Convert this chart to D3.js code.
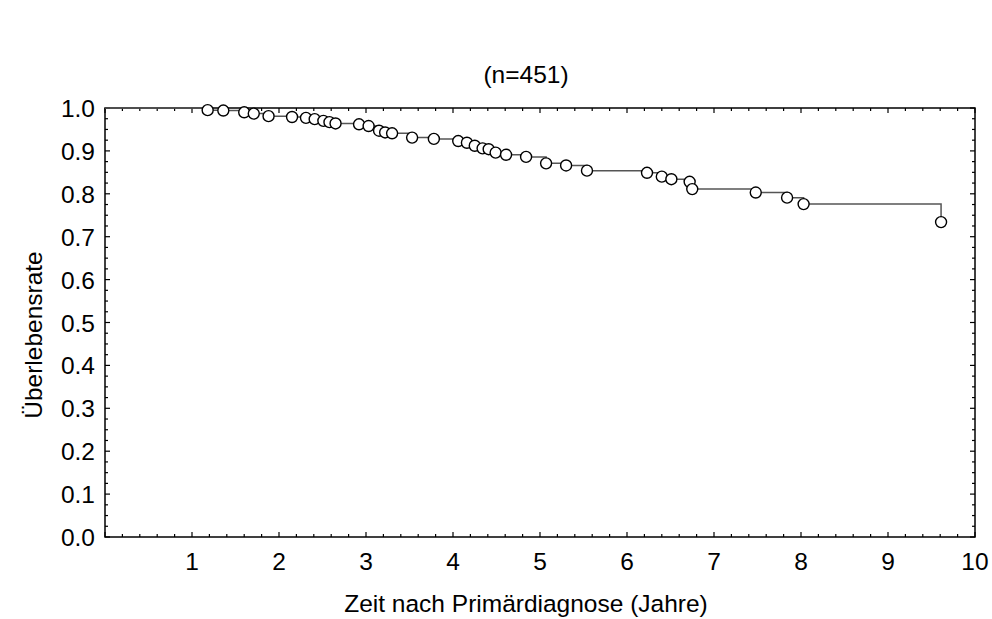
<!DOCTYPE html>
<html>
<head>
    <title>Überlebensrate</title>
    <script src="https://d3js.org/d3.v7.min.js"></script>
    <style>
        body { margin: 0; background: #fff; }
        text { font-family: "Liberation Sans", Arial, sans-serif; fill: #000; font-size: 24.5px; }
        .frame { fill: none; stroke: #000; stroke-width: 1.5px; }
        .tick { stroke: #000; stroke-width: 1.2px; }
        .step { fill: none; stroke: #555; stroke-width: 1.5px; }
        .event { fill: #fff; stroke: #000; stroke-width: 1.4px; }
    </style>
</head>
<body>
    <svg width="992" height="619"></svg>

    <script>
        // event times (years) and survival after each event
        const times = [1.18, 1.36, 1.6, 1.71, 1.88, 2.15, 2.31, 2.41, 2.51, 2.58, 2.65,
                       2.92, 3.03, 3.15, 3.22, 3.3, 3.53, 3.78, 4.06, 4.16, 4.25, 4.34,
                       4.41, 4.49, 4.61, 4.84, 5.07, 5.3, 5.54, 6.23, 6.4, 6.51, 6.72,
                       6.75, 7.48, 7.84, 8.03, 9.61];
        const survival = [0.995, 0.994, 0.99, 0.987, 0.981, 0.979, 0.977, 0.974, 0.97, 0.967, 0.964,
                          0.962, 0.958, 0.947, 0.943, 0.941, 0.931, 0.928, 0.923, 0.919, 0.912, 0.906,
                          0.904, 0.896, 0.891, 0.886, 0.871, 0.866, 0.854, 0.849, 0.84, 0.834, 0.828,
                          0.811, 0.803, 0.791, 0.776, 0.734];
        const xTickLabels = [1, 2, 3, 4, 5, 6, 7, 8, 9, 10];
        const yTickLabels = [0, 0.1, 0.2, 0.3, 0.4, 0.5, 0.6, 0.7, 0.8, 0.9, 1.0];
        const chartTitle = "(n=451)";
        const xTitle = "Zeit nach Primärdiagnose (Jahre)";
        const yTitle = "Überlebensrate";

        const svg = d3.select("svg");
        const plotLeft = 105, plotRight = 975, plotTop = 108, plotBottom = 537;

        const x = d3.scaleLinear().domain([0, 10]).range([plotLeft, plotRight]);
        const y = d3.scaleLinear().domain([0, 1]).range([plotBottom, plotTop]);

        // minor + major ticks on all four sides, pointing inward
        const xMinor = d3.range(0, 10.001, 0.2);
        const yMinor = d3.range(0, 1.0001, 0.025);
        const isMajorX = v => Math.abs(v - Math.round(v)) < 1e-6;
        const isMajorY = v => Math.abs(v * 10 - Math.round(v * 10)) < 1e-6;

        const ticks = svg.append("g");
        xMinor.forEach(v => {
            const len = isMajorX(v) ? 5 : 3;
            ticks.append("line").attr("class", "tick")
                .attr("x1", x(v)).attr("x2", x(v)).attr("y1", plotBottom).attr("y2", plotBottom - len);
            ticks.append("line").attr("class", "tick")
                .attr("x1", x(v)).attr("x2", x(v)).attr("y1", plotTop).attr("y2", plotTop + len);
        });
        yMinor.forEach(v => {
            const len = isMajorY(v) ? 5 : 3;
            ticks.append("line").attr("class", "tick")
                .attr("y1", y(v)).attr("y2", y(v)).attr("x1", plotLeft).attr("x2", plotLeft + len);
            ticks.append("line").attr("class", "tick")
                .attr("y1", y(v)).attr("y2", y(v)).attr("x1", plotRight).attr("x2", plotRight - len);
        });

        svg.append("rect").attr("class", "frame")
            .attr("x", plotLeft).attr("y", plotTop)
            .attr("width", plotRight - plotLeft).attr("height", plotBottom - plotTop);

        // tick labels
        svg.append("g").selectAll("text")
            .data(xTickLabels)
            .enter().append("text")
            .attr("x", d => x(d))
            .attr("y", 570)
            .attr("text-anchor", "middle")
            .text(d => d);

        svg.append("g").selectAll("text")
            .data(yTickLabels)
            .enter().append("text")
            .attr("x", 95)
            .attr("y", d => y(d) + 9)
            .attr("text-anchor", "end")
            .text(d => d3.format(".1f")(d));

        // step curve (Kaplan-Meier), starting at 1.0
        const pts = [[0, 1]].concat(times.map((t, i) => [t, survival[i]]));
        const line = d3.line()
            .x(d => x(d[0]))
            .y(d => y(d[1]))
            .curve(d3.curveStepAfter);

        svg.append("path").attr("class", "step").attr("d", line(pts));

        svg.append("g").selectAll("circle")
            .data(times)
            .enter().append("circle")
            .attr("class", "event")
            .attr("cx", d => x(d))
            .attr("cy", (d, i) => y(survival[i]))
            .attr("r", 5.5);

        // titles
        svg.append("text")
            .attr("x", 526).attr("y", 83)
            .attr("text-anchor", "middle")
            .text(chartTitle);

        svg.append("text")
            .attr("x", 526).attr("y", 612)
            .attr("text-anchor", "middle")
            .text(xTitle);

        svg.append("text")
            .attr("transform", "translate(42,335) rotate(-90)")
            .attr("text-anchor", "middle")
            .text(yTitle);
    </script>
</body>
</html>
